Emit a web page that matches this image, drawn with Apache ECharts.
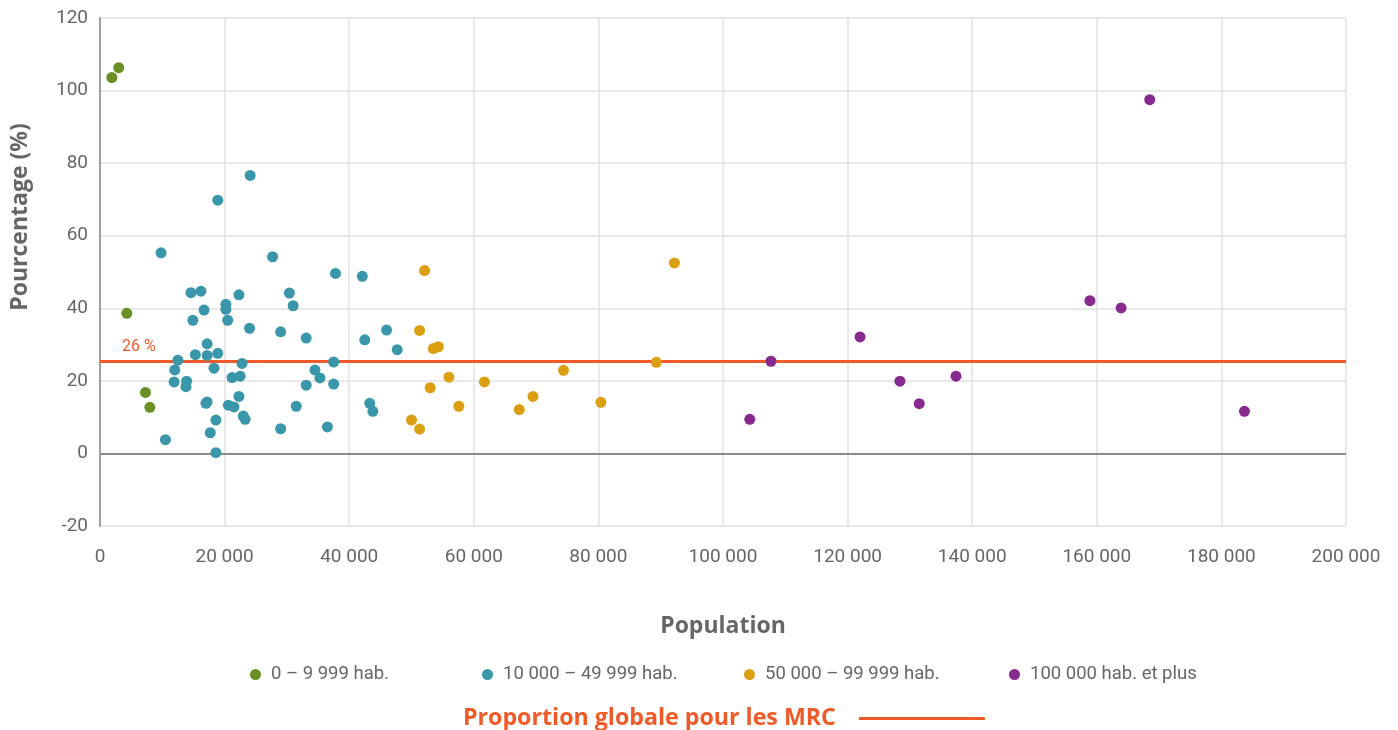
<!DOCTYPE html>
<html>
<head>
<meta charset="utf-8">
<script src="https://cdn.jsdelivr.net/npm/echarts@6/dist/echarts.min.js"></script>
<style>
html,body{margin:0;padding:0;background:#fff;}
#chart{width:1398px;height:730px;}
</style>
</head>
<body>
<div id="chart"></div>
<script>
// ---- Data (population, percentage) ----
const seriesNames = ['0 – 9 999 hab.', '10 000 – 49 999 hab.', '50 000 – 99 999 hab.', '100 000 hab. et plus'];
const globalName = 'Proportion globale pour les MRC';

const group0to9999 = [
  [1900, 103.6], [3000, 106.3], [4300, 38.6], [7300, 16.8], [8000, 12.7]
];
const group10kto49999 = [
  [18900, 69.8], [24100, 76.6], [9800, 55.3], [27700, 54.2], [14600, 44.3],
  [16200, 44.7], [22300, 43.7], [30400, 44.2], [31000, 40.7], [20200, 41.1],
  [20200, 39.7], [16700, 39.5], [14900, 36.7], [20500, 36.7], [24000, 34.5],
  [29000, 33.5], [17200, 30.2], [15300, 27.2], [17200, 27.0], [18900, 27.6],
  [12500, 25.7], [22800, 24.8], [12000, 23.0], [18300, 23.5], [11900, 19.7],
  [13900, 19.9], [13800, 18.4], [21200, 20.9], [22500, 21.3], [22300, 15.7],
  [17200, 14.2], [17000, 13.8], [20600, 13.3], [21500, 12.8], [23000, 10.3],
  [23300, 9.4], [18600, 9.2], [29000, 6.8], [10500, 3.8], [17700, 5.7],
  [18600, 0.2], [37800, 49.6], [42100, 48.8], [33100, 31.8], [42500, 31.3],
  [46000, 34.0], [47700, 28.6], [37500, 25.2], [34500, 23.0], [35300, 20.8],
  [33100, 18.8], [37500, 19.1], [31500, 13.0], [43300, 13.8], [43800, 11.6],
  [36500, 7.3]
];
const group50kto99999 = [
  [52100, 50.4], [51300, 33.9], [53500, 28.9], [54300, 29.4], [56000, 21.0],
  [53000, 18.1], [61700, 19.7], [74400, 22.9], [57600, 13.0], [69500, 15.7],
  [67300, 12.1], [80400, 14.1], [50000, 9.2], [51300, 6.7], [89300, 25.1],
  [92200, 52.5]
];
const group100kplus = [
  [104300, 9.4], [107700, 25.4], [122000, 32.1], [128400, 19.9], [131500, 13.7],
  [137400, 21.3], [158900, 42.1], [163900, 40.1], [168500, 97.5], [183700, 11.6]
];
const globalProportion = 25.4;
const globalLabel = '26 %';

const xTicks = { min: 0, max: 200000, interval: 20000 };
const yTicks = { min: -20, max: 120, interval: 20 };

const colors = ['#6a8f24', '#3a97a9', '#dc9f12', '#862a8e'];
const orange = '#f05a28';
const groups = [group0to9999, group10kto49999, group50kto99999, group100kplus];

function fmtNum(v) {
  return String(v).replace(/\B(?=(\d{3})+(?!\d))/g, ' ');
}

const chart = echarts.init(document.getElementById('chart'), null, { renderer: 'canvas' });

const scatterSeries = groups.map((g, i) => ({
  name: seriesNames[i],
  type: 'scatter',
  data: g,
  symbol: 'circle',
  symbolSize: 11,
  itemStyle: { color: colors[i], opacity: 1 },
  z: 5,
  emphasis: { disabled: true }
}));

const legendLefts = [245, 477, 739, 1004];
const legends = seriesNames.map((n, i) => ({
  data: [{ name: n, icon: 'circle' }],
  left: legendLefts[i],
  top: 660,
  itemWidth: 11,
  itemHeight: 11,
  textStyle: { fontFamily: 'Roboto', fontSize: 18.5, color: '#666', padding: [0, 0, 0, 5] },
  selectedMode: false
}));
legends.push({
  data: [{ name: globalName, icon: 'rect' }],
  left: 458,
  top: 702,
  align: 'right',
  itemWidth: 126,
  itemHeight: 3,
  textStyle: { fontFamily: 'Open Sans', fontWeight: 'bold', fontSize: 23.2, color: orange, padding: [0, 18, 0, 0] },
  selectedMode: false
});

chart.setOption({
  animation: false,
  backgroundColor: '#fff',
  textStyle: { fontFamily: 'Roboto' },
  grid: { left: 100, right: 52, top: 18, bottom: 204, containLabel: false, outerBoundsMode: 'none' },
  legend: legends,
  xAxis: {
    type: 'value',
    min: xTicks.min, max: xTicks.max, interval: xTicks.interval,
    name: 'Population',
    nameLocation: 'middle',
    nameGap: 89,
    nameTextStyle: { fontFamily: 'Open Sans', fontWeight: 'bold', fontSize: 23, color: '#666' },
    axisLine: { show: false },
    axisTick: { show: false },
    axisLabel: { margin: 22, fontSize: 19, color: '#666', formatter: v => fmtNum(v) },
    splitLine: { show: true, lineStyle: { color: '#e2e2e2', width: 1.5 } }
  },
  yAxis: {
    type: 'value',
    min: yTicks.min, max: yTicks.max, interval: yTicks.interval,
    name: 'Pourcentage (%)',
    nameLocation: 'middle',
    nameGap: 68,
    nameTextStyle: { fontFamily: 'Open Sans', fontWeight: 'bold', fontSize: 23, color: '#666', padding: [0, 0, 0, 110] },
    axisLine: { show: true, onZero: false, lineStyle: { color: '#a0a0a0', width: 2 } },
    axisTick: { show: false },
    axisLabel: { margin: 12, fontSize: 19, color: '#666' },
    splitLine: { show: true, lineStyle: { color: '#e2e2e2', width: 1.5 } }
  },
  series: [
    {
      name: 'zero',
      type: 'line',
      data: [],
      silent: true,
      z: 2,
      markLine: {
        silent: true,
        symbol: 'none',
        animation: false,
        lineStyle: { color: '#8a8a8a', width: 2, type: 'solid' },
        label: { show: false },
        data: [{ yAxis: 0 }]
      }
    },
    {
      name: globalName,
      type: 'line',
      data: [],
      color: orange,
      silent: true,
      z: 3,
      markLine: {
        silent: true,
        symbol: 'none',
        animation: false,
        lineStyle: { color: orange, width: 3, type: 'solid' },
        label: {
          show: true,
          position: 'insideStartTop',
          formatter: globalLabel,
          color: orange,
          fontFamily: 'Roboto',
          fontSize: 16,
          distance: 6,
          padding: [0, 0, 0, 16]
        },
        data: [{ yAxis: globalProportion }]
      }
    }
  ].concat(scatterSeries)
});
</script>
</body>
</html>
